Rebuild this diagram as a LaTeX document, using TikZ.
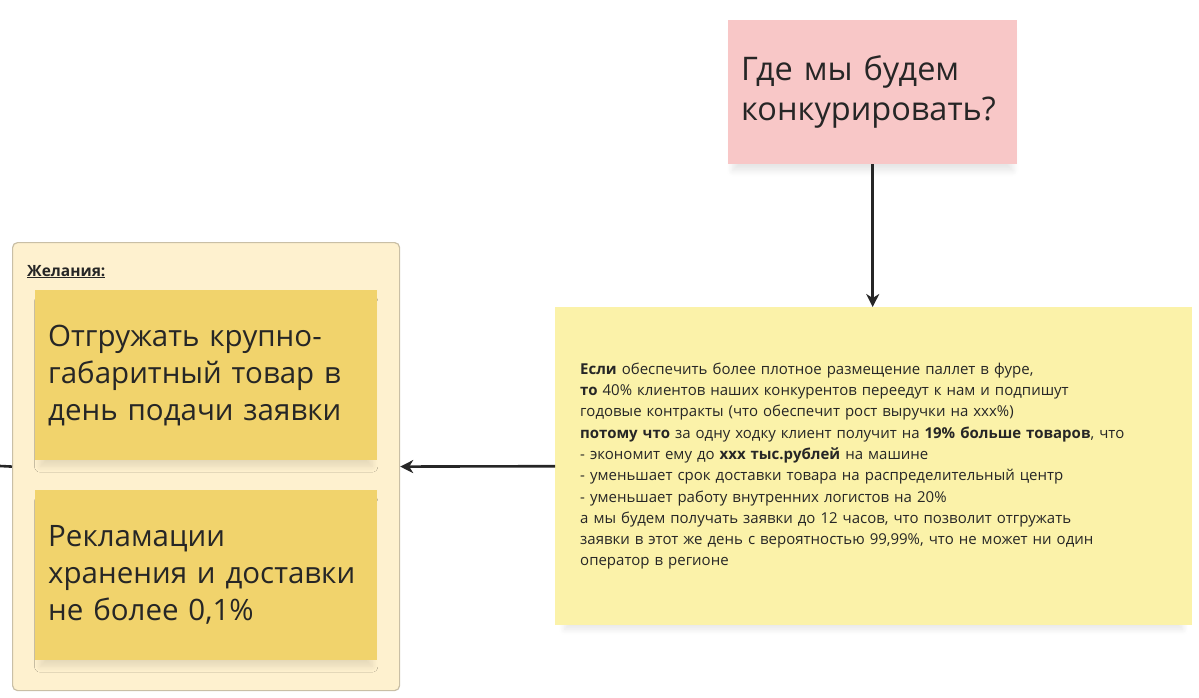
\documentclass[tikz,border=0pt]{standalone}
\usepackage{fontspec}
\setmainfont{Open Sans}
\usetikzlibrary{arrows.meta,shadows.blur}

\definecolor{inkdark}{HTML}{262626}
\definecolor{notepink}{HTML}{F8C7C7}
\definecolor{notelemon}{HTML}{FBF2A9}
\definecolor{noteamber}{HTML}{F1D36C}
\definecolor{framefill}{HTML}{FEF1CF}
\definecolor{frameline}{HTML}{C9BFA6}

\tikzset{
  note/.style={anchor=north west, align=left, inner ysep=0pt, text=inkdark,
    blur shadow={shadow blur steps=8, shadow blur radius=6pt, shadow scale=0.97,
      shadow xshift=0pt, shadow yshift=-9pt, shadow opacity=10}},
  link/.style={-{Stealth[length=13pt,width=13pt,inset=4pt]}, line width=2.6pt, inkdark}
}

\begin{document}
\begin{tikzpicture}[x=1pt,y=-1pt]
\useasboundingbox (0,0) rectangle (1199,698);

% frame of wishes
\node[anchor=north west, draw=frameline, fill=framefill, rounded corners=5pt, line width=1.2pt,
  minimum width=387pt, minimum height=448pt] (wishes) at (12,242) {};
\node[anchor=base west, inner sep=0pt, text=inkdark, font=\fontsize{15.5}{18}\selectfont\bfseries]
  (wisheslabel) at (27,276) {\underline{Желания:}};

% stickies
\node[note, fill=noteamber, minimum width=342pt, minimum height=170pt, text width=316pt, inner xsep=13pt,
  font=\fontsize{29.5}{37}\selectfont] (wishA) at (35,290)
  {Отгружать крупно-\\габаритный товар в\\день подачи заявки};
\node[note, fill=noteamber, minimum width=342pt, minimum height=170pt, text width=316pt, inner xsep=13pt,
  font=\fontsize{29.5}{37}\selectfont] (wishB) at (35,490)
  {Рекламации\\хранения и доставки\\не более 0,1\%};

\node[note, fill=notepink, minimum width=289pt, minimum height=144pt, text width=263pt, inner xsep=13pt,
  font=\fontsize{32.5}{40}\selectfont] (question) at (728,20)
  {Где мы будем\\конкурировать?};

\node[note, fill=notelemon, minimum width=637pt, minimum height=318pt, text width=587pt, inner xsep=25pt,
  font=\fontsize{15}{21.3}\selectfont] (hypothesis) at (555,307)
  {\textbf{Если} обеспечить более плотное размещение паллет в фуре,\\
   \textbf{то} 40\% клиентов наших конкурентов переедут к нам и подпишут\\
   годовые контракты (что обеспечит рост выручки на xxx\%)\\
   \textbf{потому что} за одну ходку клиент получит на \textbf{19\% больше товаров}, что\\
   - экономит ему до \textbf{xxx тыс.рублей} на машине\\
   - уменьшает срок доставки товара на распределительный центр\\
   - уменьшает работу внутренних логистов на 20\%\\
   а мы будем получать заявки до 12 часов, что позволит отгружать\\
   заявки в этот же день с вероятностью 99,99\%, что не может ни один\\
   оператор в регионе};

% arrows
\coordinate (offleft) at (0,466);
\draw[link] (question) -- (question |- hypothesis.north);
\draw[link] (hypothesis.west) -- (wishes.east);
\draw[line width=2.6pt, inkdark] (wishes.west) -- (offleft);
\end{tikzpicture}
\end{document}
